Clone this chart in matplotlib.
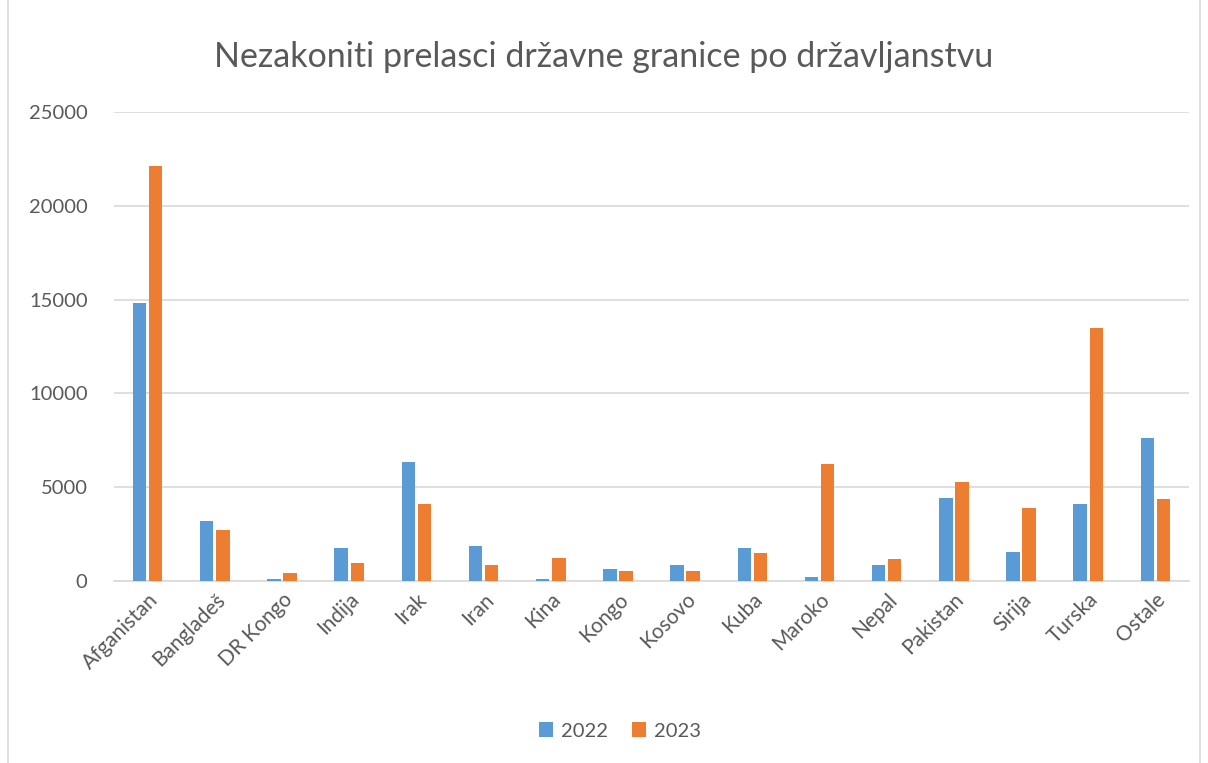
import matplotlib.pyplot as plt
import matplotlib.patches as mpatches
import numpy as np

plt.rcParams['font.family'] = ['Lato', 'DejaVu Sans']

# data
drzave = ['Afganistan', 'Bangladeš', 'DR Kongo', 'Indija', 'Irak', 'Iran', 'Kina', 'Kongo',
          'Kosovo', 'Kuba', 'Maroko', 'Nepal', 'Pakistan', 'Sirija', 'Turska', 'Ostale']
god_2022 = [14840, 3200, 130, 1745, 6335, 1885, 90, 660, 840, 1745, 230, 840, 4415, 1565, 4095, 7620]
god_2023 = [22130, 2740, 450, 945, 4095, 870, 1245, 535, 535, 1515, 6245, 1160, 5285, 3915, 13470, 4360]

plava = '#5B9BD5'
narancasta = '#ED7D31'
siva_txt = '#595959'

fig = plt.figure(figsize=(12.08, 7.63), dpi=100)
ax = fig.add_axes([114 / 1208, 1 - 581 / 763, 1075 / 1208, 469 / 763])

x = np.arange(len(drzave))
w = 0.2
ax.bar(x - w / 2 - 0.02, god_2022, w, color=plava, label='2022', zorder=3)
ax.bar(x + w / 2 + 0.02, god_2023, w, color=narancasta, label='2023', zorder=3)

ax.set_xlim(-0.5, len(drzave) - 0.5)
ax.set_ylim(0, 25000)
ax.set_yticks(np.arange(0, 25001, 5000))
ax.yaxis.grid(True, color='#D9D9D9', linewidth=1.2, zorder=0)
ax.set_axisbelow(True)

for s in ['top', 'right', 'left']:
    ax.spines[s].set_visible(False)
ax.spines['bottom'].set_color('#D9D9D9')
ax.spines['bottom'].set_linewidth(1.2)

ax.tick_params(axis='both', length=0, colors=siva_txt)
ax.tick_params(axis='y', pad=19, labelsize=14.5)
ax.tick_params(axis='x', pad=6, labelsize=15)
ax.set_xticks(x)
ax.set_xticklabels(drzave, rotation=45, ha='right', va='top', rotation_mode='anchor')

fig.text(0.5, 1 - 57 / 763, 'Nezakoniti prelasci državne granice po državljanstvu',
         ha='center', va='center', fontsize=24.5, color=siva_txt)

fig.legend(loc='center', bbox_to_anchor=(620 / 1208, 1 - 731 / 763), ncol=2, frameon=False,
           fontsize=14.5, labelcolor=siva_txt, handlelength=0.7, handleheight=0.7,
           handletextpad=0.4, columnspacing=1.2)

# chart frame
fig.patches.append(mpatches.Rectangle((8 / 1208, -0.01), 1192 / 1208, 1.02,
                                      transform=fig.transFigure, fill=False,
                                      edgecolor='#D9D9D9', linewidth=1.2))

fig.savefig('out.png', dpi=100, facecolor='white')
